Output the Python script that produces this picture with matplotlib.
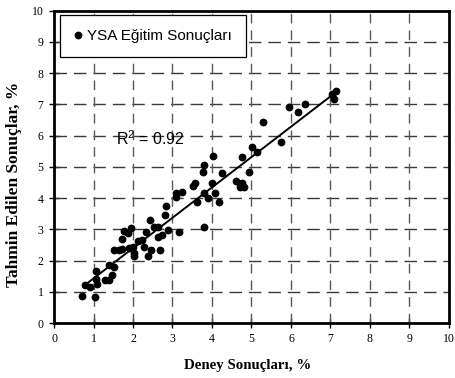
"""Scatter of ANN training results: predicted vs. experimental values."""

import matplotlib.pyplot as plt

plt.rcParams['mathtext.fontset'] = 'custom'
plt.rcParams['mathtext.rm'] = 'Liberation Sans'
plt.rcParams['mathtext.it'] = 'Liberation Sans'

deney = [0.72, 0.79, 0.91, 1.03, 1.06, 1.08, 1.06, 1.30, 1.38, 1.38,
         1.47, 1.53, 1.53, 1.64, 1.72, 1.72, 1.78, 1.87, 1.91, 1.96,
         2.02, 2.02, 1.99, 2.12, 2.23, 2.28, 2.33, 2.37, 2.43, 2.46,
         2.54, 2.63, 2.63, 2.69, 2.74, 2.82, 2.84, 2.88, 3.16, 3.08,
         3.09, 3.25, 3.53, 3.58, 3.63, 3.79, 3.79, 3.77, 3.79, 3.89,
         4.01, 4.03, 4.08, 4.18, 4.26, 4.62, 4.70, 4.77, 4.81, 4.76,
         4.94, 5.01, 5.13, 5.28, 5.74, 5.95, 6.19, 6.36, 7.03, 7.14,
         7.10]
tahmin = [0.87, 1.23, 1.15, 0.82, 1.66, 1.26, 1.42, 1.39, 1.39, 1.85,
          1.55, 1.78, 2.35, 2.35, 2.38, 2.69, 2.95, 2.88, 2.41, 3.04,
          2.24, 2.14, 2.44, 2.63, 2.65, 2.44, 2.90, 2.14, 3.31, 2.35,
          3.06, 3.08, 2.74, 2.33, 2.81, 3.45, 3.74, 2.99, 2.90, 4.04,
          4.15, 4.18, 4.38, 4.47, 3.86, 3.06, 4.17, 4.84, 5.06, 4.00,
          4.49, 5.35, 4.15, 3.86, 4.81, 4.55, 4.34, 4.49, 4.34, 5.30,
          4.84, 5.64, 5.46, 6.42, 5.80, 6.92, 6.75, 7.00, 7.33, 7.44,
          7.18]

# Trend line end points
fit_x = [0.85, 7.08]
fit_y = [1.28, 7.33]
r2_text = r'R$^{2}$ = 0.92'

ticks = list(range(0, 11))

fig = plt.figure(figsize=(4.55, 3.78), dpi=100)
ax = fig.add_axes([0.1187, 0.1455, 0.868, 0.8267])

ax.set_xlim(0, 10)
ax.set_ylim(0, 10)

# Dashed grid, drawn with hlines / vlines
ax.hlines(ticks[1:-1], 0, 10, colors='#3a3a3a', linewidth=1.0,
          linestyles=(0, (9, 5)), zorder=2)
ax.vlines(ticks[1:-1], 0, 10, colors='#5a5a5a', linewidth=1.0,
          linestyles=(0, (7, 5)), zorder=2)

ax.plot(deney, tahmin, 'o', color='black', markersize=4.6,
        label='YSA Eğitim Sonuçları', zorder=3)
ax.plot(fit_x, fit_y, color='black', linewidth=1.4, zorder=3)

ax.text(1.57, 5.69, r2_text, fontsize=11.5, family='Liberation Sans',
        zorder=4)

ax.set_xticks(ticks)
ax.set_yticks(ticks)
ax.tick_params(direction='inout', length=7, width=1, colors='black',
               labelsize=8.5, pad=4)
for lab in ax.get_xticklabels() + ax.get_yticklabels():
    lab.set_family('Liberation Serif')

for side in ['left', 'bottom', 'top', 'right']:
    ax.spines[side].set_linewidth(2)

ax.set_xlabel('Deney Sonuçları, %', family='Liberation Serif',
              fontweight='bold', fontsize=10.7)
ax.set_ylabel('Tahmin Edilen Sonuçlar, %', family='Liberation Serif',
              fontweight='bold', fontsize=12.5)
ax.xaxis.set_label_coords(0.49, -0.115)
ax.yaxis.set_label_coords(-0.08, 0.445)

leg = ax.legend(loc='upper left', bbox_to_anchor=(0.015, 0.985),
                borderaxespad=0, fancybox=False, framealpha=1,
                edgecolor='black', handlelength=0.6, handletextpad=0.3,
                borderpad=0.9, prop={'family': 'Liberation Sans', 'size': 11})
leg.get_frame().set_linewidth(0.9)
leg.set_zorder(5)

plt.savefig('out.png', dpi=100)
